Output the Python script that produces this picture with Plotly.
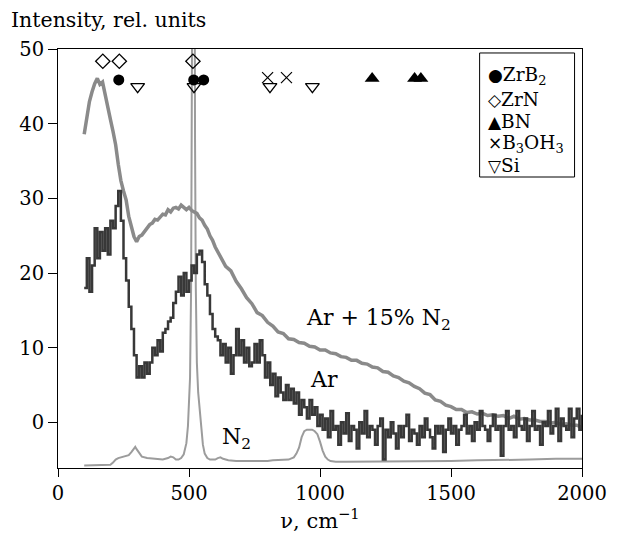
import plotly.graph_objects as go

# ---------- data ----------
# Ar + 15% N2 spectrum
mix_x = [100, 110, 120, 130, 140, 150, 155, 160, 170, 180, 190, 200, 210, 220, 230, 240, 250, 260, 270, 280,
         290, 300, 310, 320, 330, 340, 350, 360, 370, 380, 390, 400, 410, 420, 430, 440, 450, 460, 470, 480,
         490, 500, 510, 520, 530, 540, 550, 560, 570, 580, 590, 600, 620, 640, 660, 680, 700, 720, 740, 760,
         780, 800, 820, 840, 860, 880, 900, 920, 940, 960, 980, 1000, 1020, 1040, 1060, 1080, 1100, 1120, 1140, 1160,
         1180, 1200, 1220, 1240, 1260, 1280, 1300, 1320, 1340, 1360, 1380, 1400, 1420, 1440, 1460, 1480, 1500, 1520, 1540, 1560,
         1580, 1600, 1620, 1640, 1660, 1680, 1700, 1720, 1740, 1760, 1780, 1800, 1820, 1840, 1860, 1880, 1900, 1920, 1940, 1960,
         1980, 2000]
mix_y = [38.6, 41.2, 43.0, 44.3, 45.4, 46.1, 45.8, 45.3, 45.6, 44.1, 42.6, 40.6, 39.0, 37.2, 34.6, 32.4, 31.0, 29.8, 27.6, 26.0,
         24.9, 24.2, 24.9, 25.1, 25.6, 25.9, 26.5, 26.7, 27.2, 27.1, 27.6, 27.9, 27.8, 28.5, 28.2, 28.7, 28.8, 28.6, 29.1, 28.8,
         28.5, 28.8, 28.4, 28.2, 28.0, 27.4, 27.1, 26.4, 25.9, 25.0, 24.4, 23.5, 22.3, 20.9, 20.3, 18.9, 17.9, 16.7, 15.9, 14.7,
         14.3, 13.4, 12.9, 12.1, 11.9, 11.2, 11.1, 10.7, 10.6, 10.2, 10.1, 9.7, 9.7, 9.3, 9.2, 8.8, 8.7, 8.3, 8.3, 7.9,
         7.8, 7.4, 7.3, 6.8, 6.7, 6.2, 6.0, 5.5, 5.3, 4.8, 4.5, 3.9, 3.7, 3.0, 2.8, 2.3, 2.1, 1.7, 1.7, 1.3,
         1.4, 1.1, 1.2, 0.9, 1.0, 0.8, 0.9, 0.5, 0.8, 0.4, 0.5, 0.3, 0.3, 0.1, 0.1, -0.1, 0.0, -0.3, -0.2, -0.4,
         -0.4, -0.7]

# Ar spectrum (every 10 cm^-1 from 100 to 2000)
ar_x = list(range(100, 2001, 10))
ar_y = [18.0, 22.0, 17.5, 21.0, 26.0, 22.0, 25.5, 23.0, 26.0, 22.5,
        27.0, 26.0, 29.0, 31.0, 27.0, 22.0, 19.0, 15.5, 12.5, 9.0,
        6.0, 7.5, 6.0, 8.0, 6.5, 8.0, 10.0, 9.0, 11.0, 9.5,
        12.0, 12.5, 13.5, 14.0, 16.0, 17.5, 19.5, 17.0, 20.0, 17.5,
        19.0, 21.0, 20.0, 22.5, 23.0, 21.5, 18.5, 17.0, 14.5, 12.5,
        11.5, 11.0, 9.0, 10.5, 8.0, 10.0, 6.5, 9.0, 12.5, 9.0,
        11.0, 8.0, 10.0, 7.5, 8.0, 10.5, 8.0, 11.0, 9.0, 6.0,
        8.0, 5.0, 6.5, 3.5, 6.0, 4.0, 3.0, 5.0, 3.0, 4.5,
        2.5, 4.0, 1.0, 3.0, 2.0, 0.5, 3.0, 1.0, 2.0, -0.5,
        1.0, -1.0, 0.5, -2.0, 1.5, -1.0, -0.5, -3.0, 0.0, -1.5,
        1.2, -2.5, -0.5, -1.0, -3.5, 0.0, -1.5, 1.5, -2.0, -0.5,
        -1.0, -3.0, -0.5, 0.5, -5.0, -1.0, -2.0, 0.0, -1.5, -3.5,
        -0.5, -2.0, -0.5, 1.0, -2.5, -1.0, -1.5, -3.0, -0.5, -2.0,
        0.5, -1.0, -2.0, -3.5, -0.5, -1.5, -0.5, -4.0, -1.0, 0.5,
        -1.5, -0.5, -3.0, -1.0, -0.5, 1.0, -1.5, -0.5, -2.5, 0.0,
        -1.0, 1.5, -0.5, -1.0, -2.5, -0.5, 1.0, -1.0, -0.5, -4.5,
        -0.5, 1.5, -1.0, -0.5, -2.0, 1.5, -0.5, -1.0, 0.5, -2.5,
        -0.5, 1.5, -1.0, -0.5, -3.0, 0.0, -0.5, 1.5, -1.5, -0.5,
        1.8, -2.5, 0.5, -0.5, -1.0, 1.8, -2.0, 0.5, 1.8, -1.0,
        1.0]

# N2 spectrum
n2_x = [100, 120, 140, 160, 180, 200, 210, 220, 230, 240, 250, 260, 270, 280, 290, 295, 300, 310, 320, 340,
        360, 380, 400, 420, 430, 440, 450, 460, 470, 480, 484, 490, 496, 500, 504, 508, 511, 514, 517, 520,
        523, 526, 530, 535, 541, 547, 553, 560, 570, 580, 600, 610, 620, 630, 650, 680, 700, 720, 740,
        760, 780, 800, 820, 840, 860, 880, 900, 910, 920, 930, 940, 950, 960, 970, 980, 990, 1000, 1010, 1020,
        1030, 1040, 1060, 1100, 1200, 1300, 1400, 1500, 1600, 1700, 1800, 1900, 2000]
n2_y = [-5.8, -5.8, -5.8, -5.8, -5.75, -5.7, -5.4, -5.0, -4.8, -4.7, -4.7, -4.6, -4.4, -4.0, -3.5, -3.3, -3.6, -4.2, -4.6, -4.8,
        -4.9, -5.0, -5.0, -4.8, -4.6, -4.7, -5.0, -5.0, -4.8, -4.3, -3.8, -2.8, -0.5, 2.0, 6.0, 18.0, 38.0, 75.0, 140.0, 75.0,
        38.0, 18.0, 8.0, 4.0, 1.5, -1.5, -3.0, -4.2, -4.8, -5.0, -5.0, -4.8, -4.7, -4.9, -5.1, -5.2, -5.2, -5.2, -5.3,
        -5.2, -5.2, -5.2, -5.1, -5.1, -5.0, -5.0, -4.7, -4.2, -3.4, -2.0, -1.2, -1.0, -1.0, -1.0, -1.2, -1.6, -2.6, -3.8, -4.6,
        -5.0, -5.2, -5.3, -5.3, -5.3, -5.3, -5.2, -5.2, -5.1, -5.1, -5.0, -4.9, -4.9]

# phase markers
zrb2_x = [232, 518, 556]
zrb2_y = [45.9, 45.9, 45.9]
zrn_x = [171, 234, 515]
zrn_y = [48.4, 48.4, 48.4]
bn_x = [1199, 1361, 1385]
bn_y = [46.1, 46.1, 46.1]
b3oh3_x = [800, 872]
b3oh3_y = [46.2, 46.2]
si_x = [304, 519, 809, 971]
si_y = [45.0, 45.0, 45.0, 45.0]

legend_symbols = ["●", "◇", "▲", "×", "▽"]
legend_labels = ["ZrB<sub>2</sub>", "ZrN", "BN", "B<sub>3</sub>OH<sub>3</sub>", "Si"]

x_ticks = [0, 500, 1000, 1500, 2000]
y_ticks = [0, 10, 20, 30, 40, 50]

FONT = "DejaVu Serif"

fig = go.Figure()

fig.add_trace(go.Scatter(x=n2_x, y=n2_y, mode="lines", line=dict(color="#9c9c9c", width=2),
                         showlegend=False, hoverinfo="skip"))
fig.add_trace(go.Scatter(x=mix_x, y=mix_y, mode="lines", line=dict(color="#8a8a8a", width=3.5),
                         showlegend=False, hoverinfo="skip"))
fig.add_trace(go.Scatter(x=ar_x, y=ar_y, mode="lines", line=dict(color="#383838", width=2.5, shape="hv"),
                         showlegend=False, hoverinfo="skip"))

fig.add_trace(go.Scatter(x=zrb2_x, y=zrb2_y, mode="markers", name="ZrB2", showlegend=False,
                         marker=dict(symbol="circle", size=11, color="black")))
fig.add_trace(go.Scatter(x=zrn_x, y=zrn_y, mode="markers", name="ZrN", showlegend=False,
                         marker=dict(symbol="diamond-open", size=11, color="black", line=dict(width=1.3))))
fig.add_trace(go.Scatter(x=bn_x, y=bn_y, mode="markers", name="BN", showlegend=False,
                         marker=dict(symbol="triangle-up", size=13, color="black")))
fig.add_trace(go.Scatter(x=b3oh3_x, y=b3oh3_y, mode="markers", name="B3OH3", showlegend=False,
                         marker=dict(symbol="x-thin-open", size=11, color="black", line=dict(width=1.2))))
fig.add_trace(go.Scatter(x=si_x, y=si_y, mode="markers", name="Si", showlegend=False,
                         marker=dict(symbol="triangle-down-open", size=12, color="black", line=dict(width=1.3))))

# curve labels
fig.add_annotation(x=1222, y=13.8, text="Ar + 15% N<sub>2</sub>", showarrow=False,
                   font=dict(family=FONT, size=22, color="black"), xanchor="center", yanchor="middle")
fig.add_annotation(x=1015, y=5.7, text="Ar", showarrow=False,
                   font=dict(family=FONT, size=22, color="black"), xanchor="center", yanchor="middle")
fig.add_annotation(x=680, y=-2.2, text="N<sub>2</sub>", showarrow=False,
                   font=dict(family=FONT, size=22, color="black"), xanchor="center", yanchor="middle")

# y-axis caption
fig.add_annotation(x=-0.093, y=1.069, xref="paper", yref="paper", text="Intensity, rel. units",
                   showarrow=False, font=dict(family=FONT, size=20.5, color="black"),
                   xanchor="left", yanchor="middle")

# legend box (symbols + labels as text, like the original)
fig.add_shape(type="rect", xref="paper", yref="paper", x0=0.8046, x1=0.9858, y0=0.6945, y1=0.9905,
              line=dict(color="black", width=1), fillcolor="white", layer="above")
row_y = [0.9345, 0.8787, 0.8278, 0.7737, 0.7221]
for sym, lab, yy in zip(legend_symbols, legend_labels, row_y):
    fig.add_annotation(x=0.8165, y=yy, xref="paper", yref="paper",
                       text='<span style="font-family:DejaVu Sans;font-size:17px">' + sym + "</span>" + lab,
                       showarrow=False, font=dict(family=FONT, size=18.5, color="black"),
                       xanchor="left", yanchor="middle")

fig.update_layout(
    width=619, height=541,
    margin=dict(l=58, r=34, t=49, b=73),
    paper_bgcolor="white", plot_bgcolor="white",
    font=dict(family=FONT, size=19.5, color="black"),
    showlegend=False,
    xaxis=dict(range=[0, 2000], tickvals=x_ticks, ticks="outside", ticklen=8, tickwidth=1,
               tickcolor="black", showline=True, linecolor="black", linewidth=1, mirror=True,
               showgrid=False, zeroline=False, tickfont=dict(family=FONT, size=19.5),
               title=dict(text="ν, cm<sup>−1</sup>", font=dict(family=FONT, size=21), standoff=4)),
    yaxis=dict(range=[-6.13, 50.04], tickvals=y_ticks, ticks="outside", ticklen=9, tickwidth=1,
               tickcolor="black", showline=True, linecolor="black", linewidth=1, mirror=True,
               showgrid=False, zeroline=False, tickfont=dict(family=FONT, size=19.5)),
)

fig.write_html("out.html")
